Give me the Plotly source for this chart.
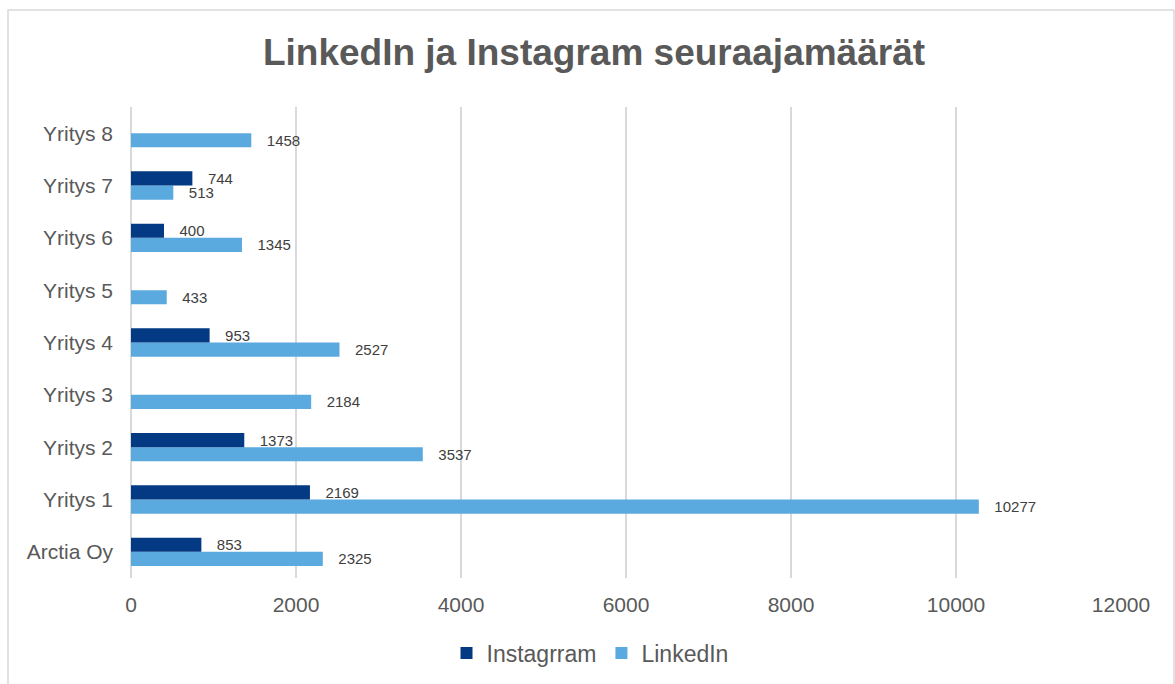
import plotly.graph_objects as go

categories = ["Arctia Oy", "Yritys 1", "Yritys 2", "Yritys 3", "Yritys 4",
              "Yritys 5", "Yritys 6", "Yritys 7", "Yritys 8"]
instagram = [853, 2169, 1373, None, 953, None, 400, 744, None]
linkedin = [2325, 10277, 3537, 2184, 2527, 433, 1345, 513, 1458]
x_ticks = [0, 2000, 4000, 6000, 8000, 10000, 12000]

W, H = 1175, 684
L, R, T, B = 131, 1121, 107, 578

def px_x(p):
    return (p - L) / (R - L)

def px_y(p):
    return (B - p) / (B - T)

FONT = "Liberation Sans, Arial"
label_fmt = "\u00a0\u00a0\u00a0%{x:d}"
label_font = dict(size=15, color="#404040", family=FONT)

fig = go.Figure()
fig.add_trace(go.Bar(
    y=categories, x=linkedin, name="LinkedIn", orientation="h",
    marker=dict(color="#5aaae0", line=dict(width=0)),
    texttemplate=label_fmt, textposition="outside", constraintext="none",
    textfont=label_font, cliponaxis=False, legendrank=2,
))
fig.add_trace(go.Bar(
    y=categories, x=instagram, name="Instagrram", orientation="h",
    marker=dict(color="#043a84", line=dict(width=0)),
    texttemplate=label_fmt, textposition="outside", constraintext="none",
    textfont=label_font, cliponaxis=False, legendrank=1,
))

fig.update_layout(
    width=W, height=H,
    margin=dict(l=L, r=W - R, t=T, b=H - B, autoexpand=False),
    paper_bgcolor="white", plot_bgcolor="white",
    barmode="group", bargap=0.46, bargroupgap=0,
    font=dict(family=FONT, color="#595959"),
    title=dict(text="<b>LinkedIn ja Instagram seuraajamäärät</b>",
               x=594 / W, xanchor="center", y=1 - 52 / H, yanchor="middle",
               font=dict(size=37, color="#595959", family=FONT)),
    xaxis=dict(range=[0, 12000], tickvals=x_ticks, tickformat="d",
               showgrid=True, gridcolor="#d9d9d9", gridwidth=1.5,
               zeroline=True, zerolinecolor="#d9d9d9", zerolinewidth=1.5,
               showline=False, tickfont=dict(size=21, color="#595959"),
               ticklabelstandoff=12, fixedrange=True),
    yaxis=dict(showgrid=False, showline=False, zeroline=False,
               tickfont=dict(size=21, color="#595959"), ticklabelstandoff=17,
               fixedrange=True),
    legend=dict(orientation="h", x=px_x(590), xanchor="center",
                y=px_y(653), yanchor="middle",
                font=dict(size=23, color="#595959"),
                itemwidth=30, traceorder="normal"),
    shapes=[dict(type="rect", xref="paper", yref="paper",
                 x0=px_x(8), x1=px_x(1174), y0=px_y(700), y1=px_y(10),
                 line=dict(color="#d9d9d9", width=1.5), layer="below")],
    showlegend=True,
)

fig.write_html("out.html")
